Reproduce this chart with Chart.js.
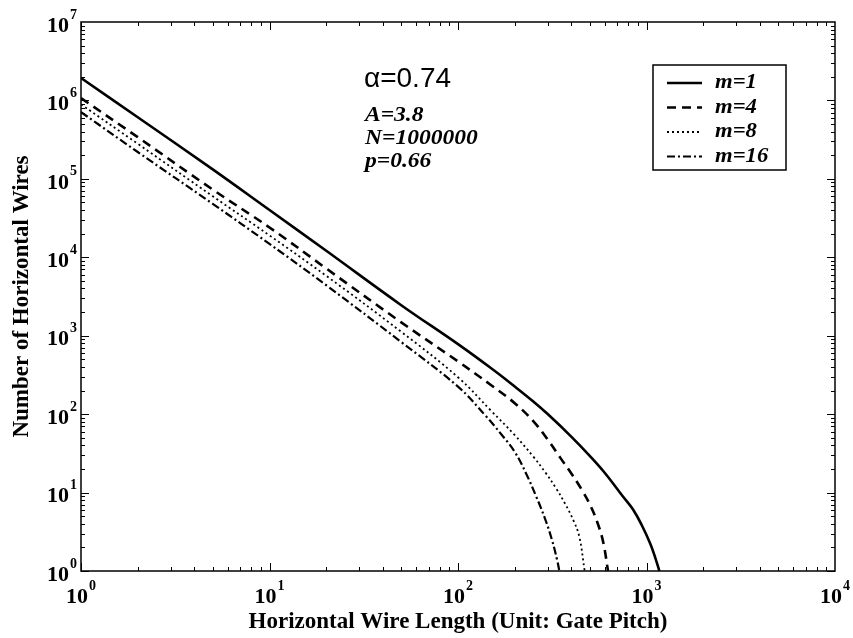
<!DOCTYPE html>
<html>
<head>
<meta charset="utf-8">
<script src="https://cdn.jsdelivr.net/npm/chart.js@4.4.0/dist/chart.umd.min.js"></script>
<style>
    html, body { margin: 0; padding: 0; background: #fff; }
    #wrap { width: 853px; height: 638px; }
</style>
</head>
<body>
<div id="wrap"><canvas id="wireChart" width="853" height="638"></canvas></div>
<script>
// values (wire length -> number of wires)
const lengthM1 = [1, 2, 5, 10, 20, 50, 100, 150, 200, 250, 300, 400, 500, 600, 750, 850, 950, 1050, 1120, 1170];
const wiresM1 = [1.93e6, 6.1e5, 1.32e5, 4.0e4, 1.21e4, 2.45e3, 780, 384, 225, 146, 99.5, 51.4, 29.4, 17.9, 8.9, 6.03, 3.72, 2.19, 1.41, 1];

const lengthM4 = [1, 2, 5, 10, 20, 50, 100, 150, 200, 250, 300, 350, 400, 450, 500, 550, 590, 625];
const wiresM4 = [1.07e6, 3.4e5, 7.3e4, 2.4e4, 7.2e3, 1.48e3, 470, 234, 138, 82, 47, 27.5, 17.4, 11.2, 7.1, 4.1, 2.3, 1];

const lengthM8 = [1, 2, 5, 10, 20, 50, 100, 150, 200, 250, 290, 330, 370, 410, 440, 470];
const wiresM8 = [8.9e5, 2.8e5, 6.0e4, 1.9e4, 5.8e3, 1.12e3, 295, 110, 54, 29, 18.2, 11.5, 7.2, 4.4, 2.75, 1];

const lengthM16 = [1, 2, 5, 10, 20, 50, 100, 140, 170, 200, 230, 260, 290, 315, 335, 345];
const wiresM16 = [7.1e5, 2.2e5, 4.8e4, 1.48e4, 4.4e3, 830, 224, 95.5, 55, 33, 17.4, 8.9, 4.6, 2.5, 1.41, 1];

const seriesLabels = ['m=1', 'm=4', 'm=8', 'm=16'];
const xTickValues = [1, 10, 100, 1000, 10000];
const yTickValues = [1, 10, 100, 1000, 10000, 100000, 1000000, 10000000];
const noteAlpha = 'α=0.74';
const noteParams = ['A=3.8', 'N=1000000', 'p=0.66'];

function toPoints(xs, ys) {
    return xs.map((v, i) => ({ x: v, y: ys[i] }));
}

const serif = "'Liberation Serif', 'Times New Roman', serif";

function lineSet(label, xs, ys, width, dash) {
    return {
        label: label,
        data: toPoints(xs, ys),
        showLine: true,
        borderColor: '#000',
        backgroundColor: '#000',
        borderWidth: width,
        borderDash: dash,
        pointRadius: 0,
        tension: 0.4,
        fill: false,
    };
}

// "10" with a raised exponent, centred on (cx, cy) or right-aligned at cx
function drawPow(ctx, value, cx, cy, alignRight) {
    const exp = String(Math.round(Math.log10(value)));
    ctx.font = "bold 22px " + serif;
    const wBase = ctx.measureText('10').width;
    ctx.font = "bold 14px " + serif;
    const wExp = ctx.measureText(exp).width;
    const total = wBase + wExp + 1;
    const left = alignRight ? cx - total : cx - total / 2;
    ctx.textAlign = 'left';
    ctx.textBaseline = 'middle';
    ctx.font = "bold 22px " + serif;
    ctx.fillText('10', left, cy + 4);
    ctx.font = "bold 14px " + serif;
    ctx.fillText(exp, left + wBase + 1, cy - 7);
}

// box, inward ticks, tick labels, notes and legend
const decorPlugin = {
    id: 'decor',
    afterDraw(chart) {
        const ctx = chart.ctx;
        const a = chart.chartArea;
        const xs = chart.scales.x;
        const ys = chart.scales.y;
        ctx.save();
        ctx.strokeStyle = '#000';
        ctx.lineWidth = 1.5;
        ctx.strokeRect(a.left, a.top, a.right - a.left, a.bottom - a.top);

        ctx.lineWidth = 1;
        ctx.beginPath();
        for (let k = 0; k < 4; k++) {
            for (let m = 1; m <= 9; m++) {
                const px = Math.round(xs.getPixelForValue(m * Math.pow(10, k))) + 0.5;
                const len = m === 1 ? 8 : 4;
                ctx.moveTo(px, a.bottom); ctx.lineTo(px, a.bottom - len);
                ctx.moveTo(px, a.top); ctx.lineTo(px, a.top + len);
            }
        }
        for (let k = 0; k < 7; k++) {
            for (let m = 1; m <= 9; m++) {
                const py = Math.round(ys.getPixelForValue(m * Math.pow(10, k))) + 0.5;
                const len = m === 1 ? 8 : 4;
                ctx.moveTo(a.left, py); ctx.lineTo(a.left + len, py);
                ctx.moveTo(a.right, py); ctx.lineTo(a.right - len, py);
            }
        }
        ctx.stroke();

        ctx.fillStyle = '#000';
        xs.ticks.forEach(t => drawPow(ctx, t.value, xs.getPixelForValue(t.value), a.bottom + 22, false));
        ys.ticks.forEach(t => drawPow(ctx, t.value, 77, ys.getPixelForValue(t.value), true));

        // notes
        ctx.textBaseline = 'middle';
        ctx.textAlign = 'left';
        ctx.font = "28px 'Liberation Sans', Arial, sans-serif";
        ctx.fillText(noteAlpha, 364, 79);
        ctx.font = "bold italic 21px " + serif;
        noteParams.forEach((t, i) => {
            ctx.save();
            ctx.translate(365, 116 + i * 23);
            ctx.scale(1.12, 1);
            ctx.fillText(t, 0, 0);
            ctx.restore();
        });

        // legend
        const bx = 653, by = 65, bw = 133, bh = 105;
        ctx.lineWidth = 1.5;
        ctx.strokeRect(bx, by, bw, bh);
        ctx.font = "bold italic 21px " + serif;
        chart.data.datasets.forEach((ds, i) => {
            const ry = 83 + i * 24.5;
            ctx.save();
            ctx.lineWidth = ds.borderWidth;
            ctx.setLineDash(ds.borderDash);
            ctx.beginPath();
            ctx.moveTo(667, ry);
            ctx.lineTo(702, ry);
            ctx.stroke();
            ctx.restore();
            ctx.save();
            ctx.translate(715, ry);
            ctx.scale(1.08, 1);
            ctx.fillText(ds.label, 0, 0);
            ctx.restore();
        });
        ctx.restore();
    }
};

new Chart(document.getElementById('wireChart'), {
    type: 'scatter',
    data: {
        datasets: [
            lineSet(seriesLabels[0], lengthM1, wiresM1, 2.6, []),
            lineSet(seriesLabels[1], lengthM4, wiresM4, 2.6, [9, 6]),
            lineSet(seriesLabels[2], lengthM8, wiresM8, 1.8, [2, 3]),
            lineSet(seriesLabels[3], lengthM16, wiresM16, 2.2, [8, 3, 2, 3]),
        ]
    },
    options: {
        responsive: false,
        animation: false,
        layout: { padding: { left: 0, right: 18, top: 22, bottom: 0 } },
        plugins: {
            legend: { display: false },
            tooltip: { enabled: false },
        },
        scales: {
            x: {
                type: 'logarithmic',
                min: 1,
                max: 10000,
                grid: { display: false, drawTicks: false },
                border: { display: false },
                afterBuildTicks: (scale) => { scale.ticks = xTickValues.map(v => ({ value: v })); },
                afterFit: (scale) => { scale.height = 67; },
                ticks: { display: false },
                title: {
                    display: true,
                    text: 'Horizontal Wire Length (Unit: Gate Pitch)',
                    color: '#000',
                    font: { family: serif, size: 23, weight: 'bold' },
                    padding: { top: 0, bottom: 2 },
                },
            },
            y: {
                type: 'logarithmic',
                min: 1,
                max: 10000000,
                grid: { display: false, drawTicks: false },
                border: { display: false },
                afterBuildTicks: (scale) => { scale.ticks = yTickValues.map(v => ({ value: v })); },
                afterFit: (scale) => { scale.width = 81; },
                ticks: { display: false },
                title: {
                    display: true,
                    text: 'Number of Horizontal Wires',
                    color: '#000',
                    font: { family: serif, size: 23, weight: 'bold' },
                    padding: { top: 8, bottom: 0 },
                },
            }
        }
    },
    plugins: [decorPlugin]
});
</script>
</body>
</html>
